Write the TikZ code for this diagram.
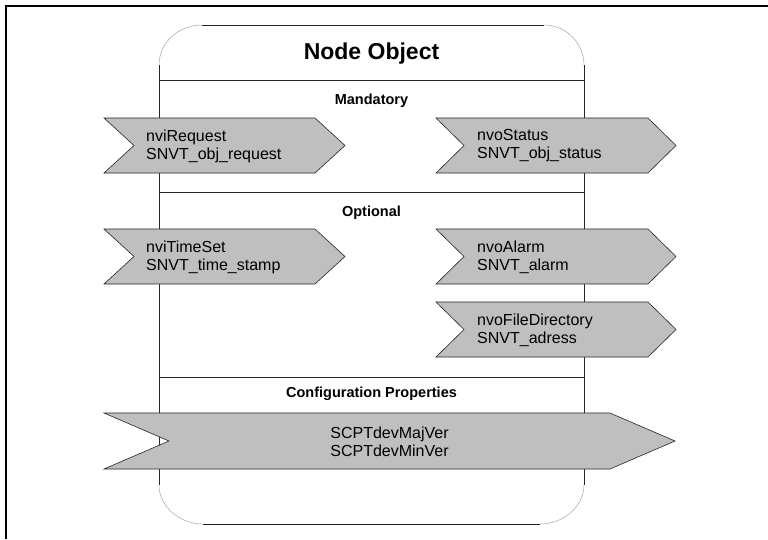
\documentclass[tikz,border=0pt]{standalone}
\usepackage{fontspec}
\setmainfont{Liberation Sans}

% flag shaped arrow: left, tip, top, bottom, point length
\newcommand{\flag}[5]{%
  \filldraw[flag] (#1,#3) -- (#2-#5,#3) -- (#2,{(#3+#4)/2}) -- (#2-#5,#4)
    -- (#1,#4) -- (#1+#5,{(#3+#4)/2}) -- cycle;}

\begin{document}
\begin{tikzpicture}[
  x=1pt, y=-1pt,
  frame/.style={line width=2pt, black},
  rule/.style={line width=0.8pt, black!85},
  corner/.style={line width=0.5pt, black!35},
  flag/.style={fill=black!25, draw=black!85, line width=0.6pt},
  head/.style={font=\bfseries\fontsize{14.5}{17}\selectfont, inner sep=0pt},
  lbl/.style={font=\fontsize{16}{18}\selectfont, align=left, inner sep=0pt},
]
\useasboundingbox (0,0) rectangle (768,539);

% ---------- outer frame ----------
\draw[frame] (6,539) -- (6,6) -- (768,6);

% ---------- object body ----------
\draw[rule] (202,25) -- (544,25);
\draw[rule] (203,524) -- (540,524);
\draw[rule] (159,65) -- (159,485);
\draw[rule] (584,65) -- (584,485);
\draw[corner] (159,65) .. controls (159,43) and (178,25) .. (202,25);
\draw[corner] (544,25) .. controls (566,25) and (584,43) .. (584,65);
\draw[corner] (159,485) .. controls (159,506) and (179,524) .. (203,524);
\draw[corner] (584,485) .. controls (584,506) and (564,524) .. (540,524);

\draw[rule] (159,80) -- (584,80);
\draw[rule] (159,192) -- (584,192);
\draw[rule] (159,377) -- (584,377);

\node[head, anchor=base, font=\bfseries\fontsize{23}{27}\selectfont] (title) at (371.5,59) {Node Object};
\node[head, anchor=base] (mand) at (371.5,104) {Mandatory};
\node[head, anchor=base] (opt) at (371.5,216) {Optional};
\node[head, anchor=base] (cfg) at (371.5,397) {Configuration Properties};

% ---------- mandatory ----------
\flag{104}{345}{118}{173}{30}
\node[lbl, anchor=west] (nviReq) at (146,146) {nviRequest\\SNVT\_obj\_request};
\flag{436}{676}{118}{173}{28}
\node[lbl, anchor=west] (nvoStat) at (477,146) {nvoStatus\\SNVT\_obj\_status};

% ---------- optional ----------
\flag{104}{345}{229}{284}{30}
\node[lbl, anchor=west] (nviTime) at (146,257) {nviTimeSet\\SNVT\_time\_stamp};
\flag{436}{676}{229}{284}{28}
\node[lbl, anchor=west] (nvoAlarm) at (477,257) {nvoAlarm\\SNVT\_alarm};
\flag{436}{676}{302}{357}{28}
\node[lbl, anchor=west] (nvoFile) at (477,330) {nvoFileDirectory\\SNVT\_adress};

% ---------- configuration ----------
\flag{104}{675}{413}{469}{65}
\node[lbl, align=center] (scpt) at (389.5,442) {SCPTdevMajVer\\SCPTdevMinVer};

\end{tikzpicture}
\end{document}
